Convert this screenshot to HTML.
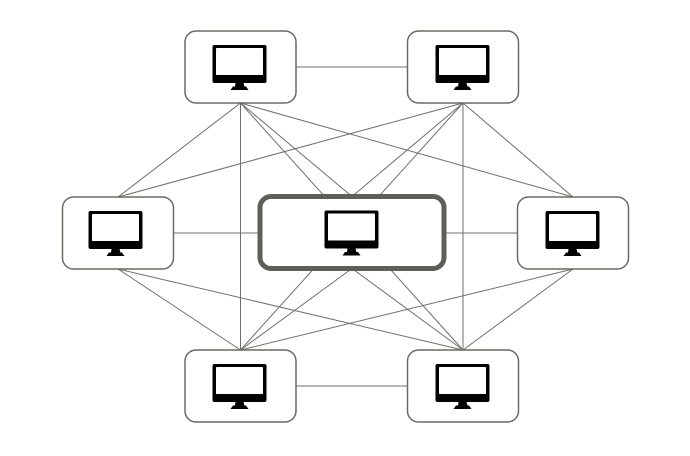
<!DOCTYPE html>
<html>
<head>
<meta charset="utf-8">
<style>
  html,body{margin:0;padding:0;background:#fff;}
  svg{display:block;}
</style>
</head>
<body>
<svg width="690" height="456" viewBox="0 0 690 456" xmlns="http://www.w3.org/2000/svg">
  <defs>
    <g id="mon">
      <rect x="-27" y="-22.5" width="54" height="38" rx="2" fill="#000"/>
      <rect x="-23.5" y="-19.5" width="47" height="27" rx="0.8" fill="#fff"/>
      <polygon points="-4,15.5 4,15.5 5,19 -4.5,19" fill="#000"/>
      <polygon points="-6.5,19 6.5,19 9,22.5 -9,22.5" fill="#000"/>
    </g>
  </defs>

  <g stroke="#6f6f6a" stroke-width="1" fill="none">
    <!-- horizontals -->
    <line x1="296" y1="67" x2="407" y2="67"/>
    <line x1="173" y1="233" x2="518" y2="233"/>
    <line x1="296" y1="386" x2="407" y2="386"/>
    <!-- from TL -->
    <line x1="240.5" y1="103" x2="118" y2="197"/>
    <line x1="240.5" y1="103" x2="352" y2="196.5"/>
    <line x1="240.5" y1="103" x2="573" y2="197"/>
    <line x1="240.5" y1="103" x2="240.5" y2="350"/>
    <line x1="240.5" y1="103" x2="463" y2="350"/>
    <!-- from TR -->
    <line x1="463" y1="103" x2="118" y2="197"/>
    <line x1="463" y1="103" x2="352" y2="196.5"/>
    <line x1="463" y1="103" x2="573" y2="197"/>
    <line x1="463" y1="103" x2="240.5" y2="350"/>
    <line x1="463" y1="103" x2="463" y2="350"/>
    <!-- from ML / MR / C bottoms -->
    <line x1="118" y1="269" x2="240.5" y2="350"/>
    <line x1="118" y1="269" x2="463" y2="350"/>
    <line x1="573" y1="269" x2="240.5" y2="350"/>
    <line x1="573" y1="269" x2="463" y2="350"/>
    <line x1="352" y1="268.5" x2="240.5" y2="350"/>
    <line x1="352" y1="268.5" x2="463" y2="350"/>
  </g>

  <g fill="#fff" stroke="#6a6a64" stroke-width="1.5">
    <rect x="185" y="31" width="111" height="72" rx="11"/>
    <rect x="407.5" y="31" width="111" height="72" rx="11"/>
    <rect x="62.5" y="197" width="111" height="72" rx="11"/>
    <rect x="517.5" y="197" width="111" height="72" rx="11"/>
    <rect x="185" y="350" width="111" height="72" rx="11"/>
    <rect x="407.5" y="350" width="111" height="72" rx="11"/>
  </g>
  <rect x="260" y="196.5" width="184" height="72" rx="11" fill="#fff" stroke="#5f5f59" stroke-width="5"/>

  <use href="#mon" x="239.5" y="67.5"/>
  <use href="#mon" x="462.5" y="67.5"/>
  <use href="#mon" x="115.5" y="233.5"/>
  <use href="#mon" x="351.5" y="233"/>
  <use href="#mon" x="572.5" y="233.5"/>
  <use href="#mon" x="239.5" y="386.5"/>
  <use href="#mon" x="462.5" y="386.5"/>
</svg>
</body>
</html>
